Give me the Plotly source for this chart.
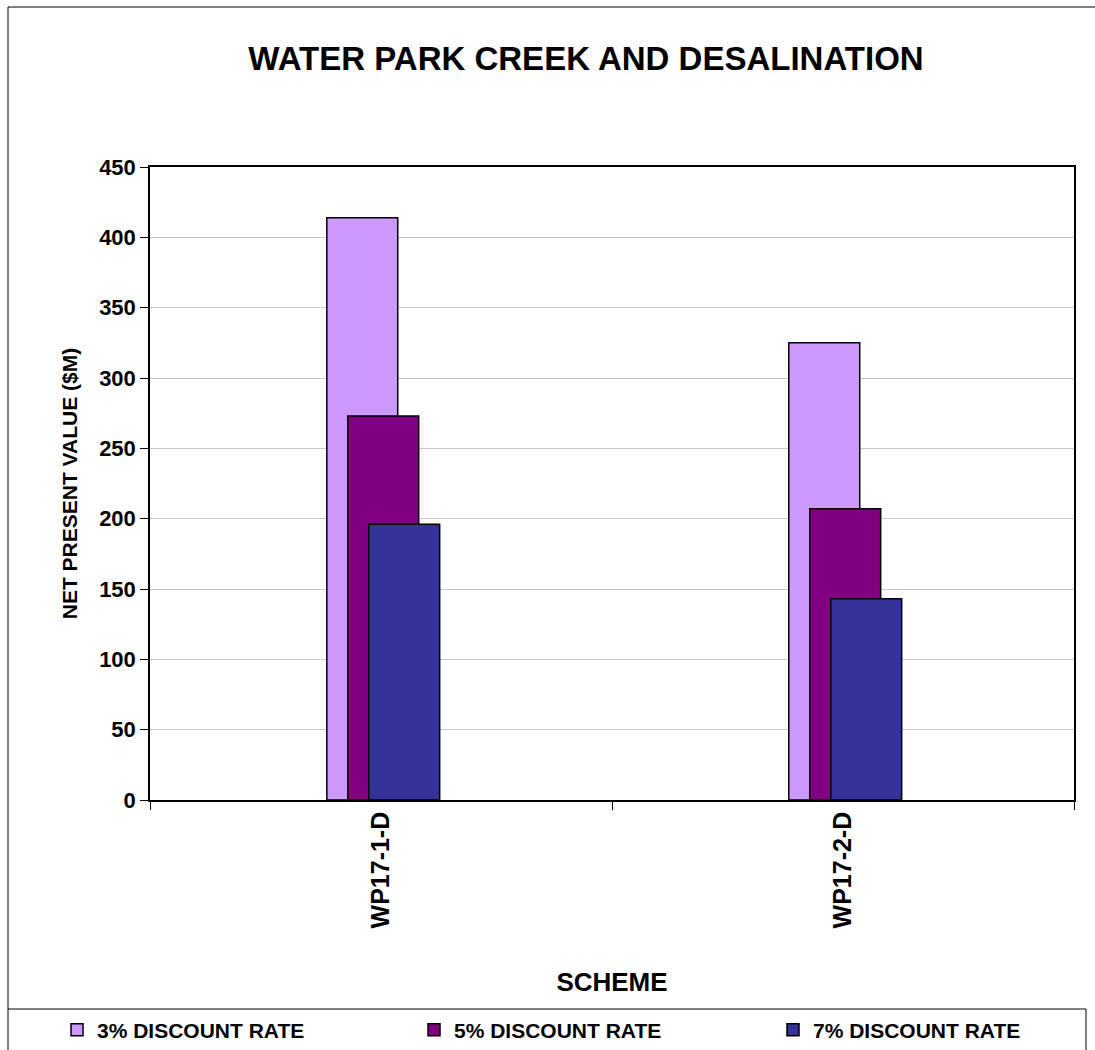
import plotly.graph_objects as go

# Scheme names and net present values ($M) at each discount rate
schemes = ["WP17-1-D", "WP17-2-D"]
series_names = ["3% DISCOUNT RATE", "5% DISCOUNT RATE", "7% DISCOUNT RATE"]
npv_3pct = [414, 325]
npv_5pct = [273, 207]
npv_7pct = [196, 143]
y_ticks = [0, 50, 100, 150, 200, 250, 300, 350, 400, 450]

colors = ["#CC99FF", "#800080", "#333399"]
series_values = [npv_3pct, npv_5pct, npv_7pct]

W, H = 1095, 1050
L, R, T, B = 150, 21, 167, 250
PW, PH = W - L - R, H - T - B
FONT = "Arial, Liberation Sans, sans-serif"


def px_x(px):
    return (px - L) / PW


def px_y(py):
    return (H - B - py) / PH


# overlapping bars: each series shifted slightly right of the previous one
bar_width = 0.1535
offsets = [-0.1173, -0.0719, -0.0265]
legend_ids = ["legend", "legend2", "legend3"]
legend_left = [57, 414, 773]

fig = go.Figure()
for name, vals, col, off, lg in zip(series_names, series_values, colors, offsets, legend_ids):
    fig.add_trace(go.Bar(
        x=schemes, y=vals, name=f"<b>{name}</b>",
        width=bar_width, offset=off, legend=lg,
        marker=dict(color=col, line=dict(color="black", width=1.5)),
    ))

frame = dict(color="black", width=1)
shapes = [
    # chart frame: top and left edges
    dict(type="line", xref="paper", yref="paper",
         x0=px_x(8), x1=px_x(1200), y0=px_y(7), y1=px_y(7), line=frame),
    dict(type="line", xref="paper", yref="paper",
         x0=px_x(8), x1=px_x(8), y0=px_y(7), y1=px_y(1200), line=frame),
    # legend frame
    dict(type="line", xref="paper", yref="paper",
         x0=px_x(8), x1=px_x(1086), y0=px_y(1009), y1=px_y(1009), line=frame),
    dict(type="line", xref="paper", yref="paper",
         x0=px_x(1086), x1=px_x(1086), y0=px_y(1009), y1=px_y(1200), line=frame),
]

legend_style = dict(
    orientation="h", xref="container", yref="container",
    xanchor="left", y=1 - 1030 / H, yanchor="middle",
    font=dict(size=21, family=FONT, color="black"),
    bgcolor="rgba(0,0,0,0)",
)

fig.update_layout(
    width=W, height=H,
    margin=dict(l=L, r=R, t=T, b=B, autoexpand=False),
    barmode="overlay",
    paper_bgcolor="white", plot_bgcolor="white",
    font=dict(family=FONT, color="black"),
    title=dict(text="<b>WATER PARK CREEK AND DESALINATION</b>",
               x=586 / W, xanchor="center", xref="container",
               y=1 - 58 / H, yanchor="middle", yref="container",
               font=dict(size=33, family=FONT, color="black")),
    xaxis=dict(
        type="category", range=[-0.5, 1.5],
        tickson="boundaries", ticks="outside", ticklen=8, tickcolor="black",
        tickangle=-90, tickfont=dict(size=25, family=FONT, color="black"),
        tickprefix="<b>", ticksuffix="</b>",
        showline=True, linecolor="black", linewidth=1.5, mirror=True,
        showgrid=False, zeroline=False,
        title=dict(text="<b>SCHEME</b>", font=dict(size=26, family=FONT, color="black"),
                   standoff=45),
    ),
    yaxis=dict(
        range=[0, 450], tickvals=y_ticks,
        ticktext=[f"<b>{v}</b>" for v in y_ticks],
        ticks="outside", ticklen=8, tickcolor="black",
        tickfont=dict(size=22, family=FONT, color="black"),
        showline=True, linecolor="black", linewidth=1.5, mirror=True,
        showgrid=True, gridcolor="#C8C8C8", gridwidth=1, zeroline=False,
        title=dict(text="<b>NET PRESENT VALUE ($M)</b>",
                   font=dict(size=21, family=FONT, color="black"), standoff=16),
    ),
    legend=dict(x=legend_left[0] / W, **legend_style),
    legend2=dict(x=legend_left[1] / W, **legend_style),
    legend3=dict(x=legend_left[2] / W, **legend_style),
    shapes=shapes,
    showlegend=True,
)

fig.write_html("out.html")
